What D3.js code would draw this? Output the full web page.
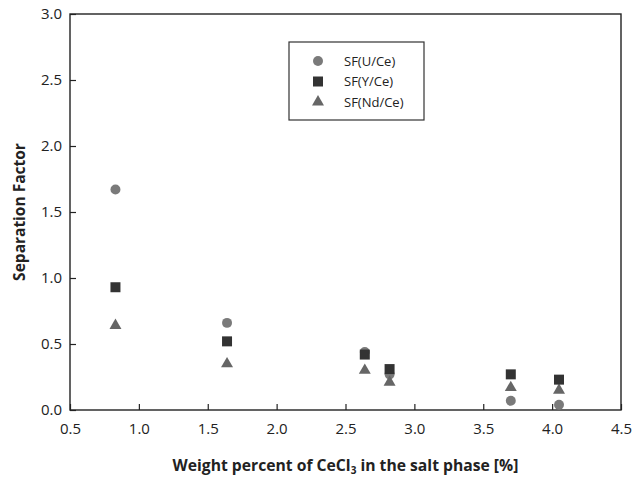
<!DOCTYPE html>
<html>
<head>
<meta charset="utf-8">
<script src="https://cdn.jsdelivr.net/npm/d3@7"></script>
<style>
  body { margin: 0; background: #fff; }
  text { font-family: "Open Sans", "Noto Sans", sans-serif; fill: #222; }
</style>
</head>
<body>
<svg width="634" height="480"></svg>
<script>
// data
var xValues = [0.83, 1.64, 2.64, 2.82, 3.70, 4.05];
var sfUCe = [1.67, 0.66, 0.44, 0.27, 0.07, 0.04];
var sfYCe = [0.93, 0.52, 0.42, 0.31, 0.27, 0.23];
var sfNdCe = [0.64, 0.35, 0.30, 0.21, 0.17, 0.15];
var seriesNames = ['SF(U/Ce)', 'SF(Y/Ce)', 'SF(Nd/Ce)'];
var xTicks = [0.5, 1.0, 1.5, 2.0, 2.5, 3.0, 3.5, 4.0, 4.5];
var yTicks = [0.0, 0.5, 1.0, 1.5, 2.0, 2.5, 3.0];

var margin = { top: 14, right: 13, bottom: 70, left: 70 };
var canvasWidth = 634;
var canvasHeight = 480;
var width = canvasWidth - margin.left - margin.right;
var height = canvasHeight - margin.top - margin.bottom;

var svg = d3.select('svg');
var g = svg.append('g')
  .attr('transform', 'translate(' + margin.left + ',' + margin.top + ')');

var xScale = d3.scaleLinear().domain([0.5, 4.5]).range([0, width]);
var yScale = d3.scaleLinear().domain([0, 3]).range([height, 0]);

// frame
g.append('rect')
  .attr('width', width)
  .attr('height', height)
  .attr('fill', 'none')
  .attr('stroke', '#222')
  .attr('stroke-width', 1.4);

// axes, ticks pointing inward
var xAxis = g.append('g')
  .attr('transform', 'translate(0,' + height + ')')
  .call(d3.axisBottom(xScale).tickValues(xTicks).tickFormat(d3.format('.1f'))
    .tickSizeInner(-6).tickSizeOuter(0).tickPadding(10));
var yAxis = g.append('g')
  .call(d3.axisLeft(yScale).tickValues(yTicks).tickFormat(d3.format('.1f'))
    .tickSizeInner(-6).tickSizeOuter(0).tickPadding(8));

[xAxis, yAxis].forEach(function(a) {
  a.select('.domain').remove();
  a.selectAll('line').attr('stroke', '#222').attr('stroke-width', 1.2);
  a.selectAll('text').style('font-size', '15px').attr('fill', '#222');
});
xAxis.selectAll('text').attr('dy', '0.9em');

// axis titles
svg.append('text')
  .attr('x', margin.left + width / 2)
  .attr('y', 471)
  .attr('text-anchor', 'middle')
  .style('font-size', '15.7px')
  .style('font-weight', 'bold')
  .html('Weight percent of CeCl<tspan dy="3" style="font-size:10px">3</tspan><tspan dy="-3"> in the salt phase [%]</tspan>');

svg.append('text')
  .attr('transform', 'translate(25,' + (margin.top + height / 2) + ') rotate(-90)')
  .attr('text-anchor', 'middle')
  .style('font-size', '15.5px')
  .style('font-weight', 'bold')
  .text('Separation Factor');

// markers
var circleColor = '#7a7a7a';
var squareColor = '#333333';
var triColor = '#666666';
var sym = {
  circle: d3.symbol().type(d3.symbolCircle).size(78),
  square: d3.symbol().type(d3.symbolSquare).size(100),
  triangle: d3.symbol().type(d3.symbolTriangle).size(62)
};

function drawSeries(values, shape, color) {
  g.selectAll('.pt-' + shape)
    .data(values)
    .enter().append('path')
    .attr('class', 'pt-' + shape)
    .attr('d', sym[shape])
    .attr('transform', function(d, i) {
      return 'translate(' + xScale(xValues[i]) + ',' + yScale(d) + ')';
    })
    .attr('fill', color);
}
drawSeries(sfUCe, 'circle', circleColor);
drawSeries(sfNdCe, 'triangle', triColor);
drawSeries(sfYCe, 'square', squareColor);

// legend
var legend = svg.append('g').attr('transform', 'translate(289,42)');
legend.append('rect')
  .attr('width', 135)
  .attr('height', 78)
  .attr('fill', '#fff')
  .attr('stroke', '#333')
  .attr('stroke-width', 1.2);
var legendShapes = ['circle', 'square', 'triangle'];
var legendColors = [circleColor, squareColor, triColor];
var item = legend.selectAll('.item')
  .data(seriesNames)
  .enter().append('g')
  .attr('class', 'item')
  .attr('transform', function(d, i) { return 'translate(0,' + (19 + i * 20.5) + ')'; });
item.append('path')
  .attr('transform', 'translate(29,0)')
  .attr('d', function(d, i) { return sym[legendShapes[i]](); })
  .attr('fill', function(d, i) { return legendColors[i]; });
item.append('text')
  .attr('x', 55)
  .attr('dy', '0.35em')
  .style('font-size', '13px')
  .text(function(d) { return d; });
</script>
</body>
</html>
